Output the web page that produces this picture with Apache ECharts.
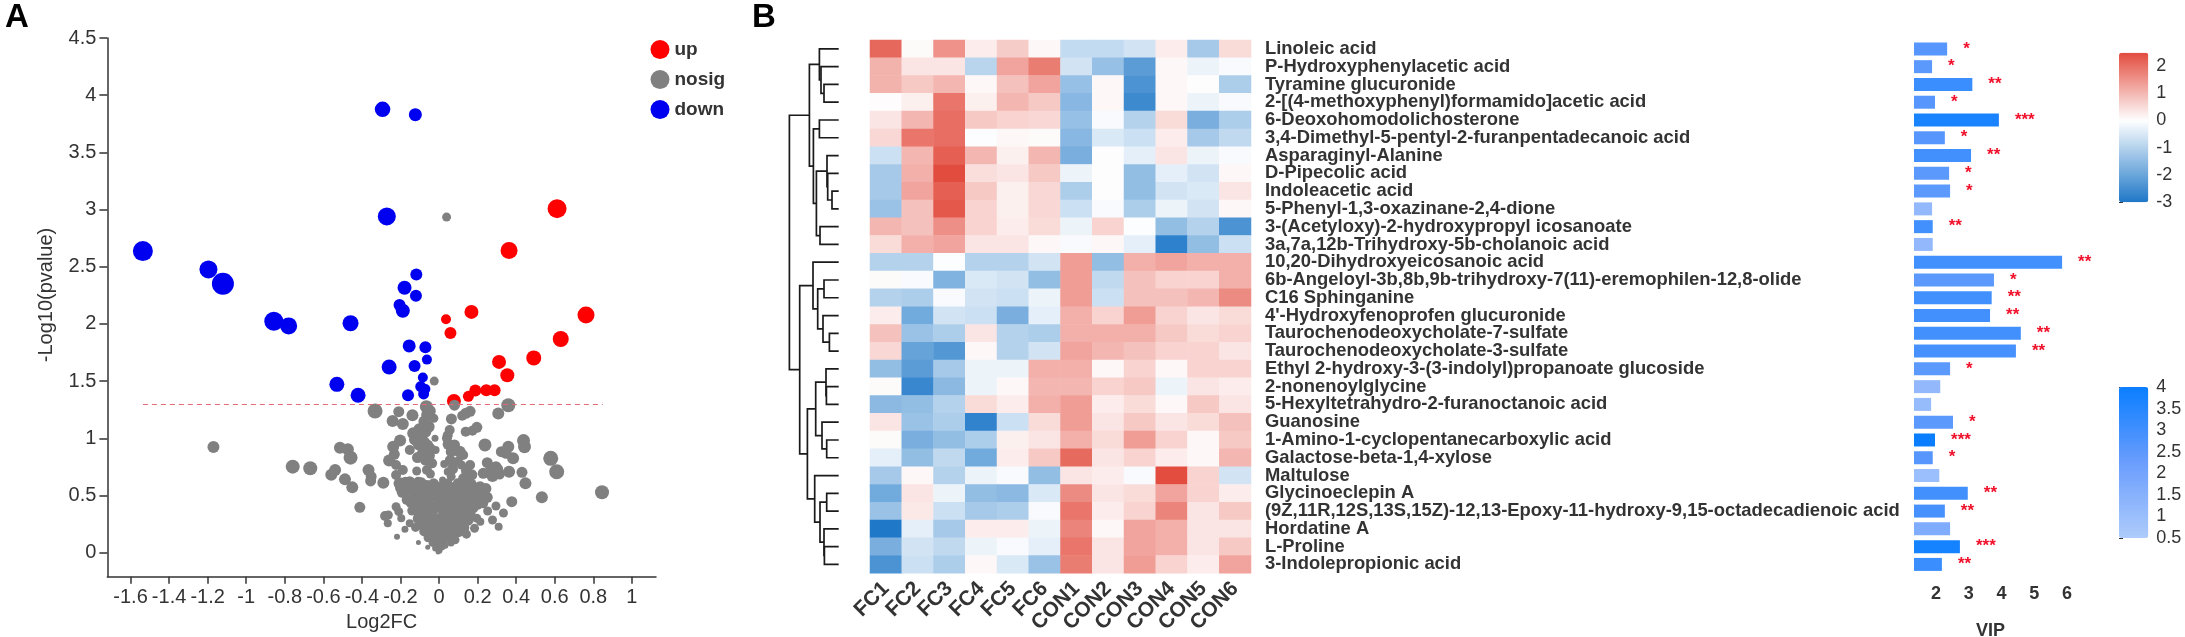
<!DOCTYPE html>
<html>
<head>
<meta charset="utf-8">
<title>Volcano and heatmap</title>
<script src="https://cdn.jsdelivr.net/npm/echarts@6/dist/echarts.min.js"></script>
<style>
  html, body { margin: 0; padding: 0; background: #fff; }
  #main { width: 2185px; height: 637px; }
</style>
</head>
<body>
<div id="main"></div>
<script>
// Panel A: [log2FC, -log10(p), dot weight]
const upDots = [
  [0.612, 3.008, 19], [0.363, 2.643, 17], [0.762, 2.078, 17], [0.168, 2.105, 14], [0.036, 2.041, 10],
  [0.059, 1.921, 12], [0.631, 1.868, 16], [0.491, 1.703, 15], [0.311, 1.668, 14], [0.354, 1.551, 14],
  [0.288, 1.42, 12], [0.245, 1.42, 12], [0.188, 1.417, 12], [0.152, 1.367, 11], [0.077, 1.327, 14]
];
const downDots = [
  [-0.293, 3.876, 15.5], [-0.123, 3.83, 13], [-0.271, 2.94, 18], [-1.536, 2.637, 20], [-1.196, 2.477, 18],
  [-1.121, 2.351, 22], [-0.118, 2.433, 12], [-0.179, 2.316, 14], [-0.12, 2.246, 12], [-0.205, 2.165, 12],
  [-0.188, 2.115, 14], [-0.857, 2.023, 19], [-0.78, 1.983, 17], [-0.459, 2.006, 16], [-0.155, 1.808, 13],
  [-0.071, 1.796, 12], [-0.063, 1.688, 10], [-0.259, 1.624, 15], [-0.127, 1.633, 12], [-0.084, 1.531, 10],
  [-0.53, 1.472, 15], [-0.095, 1.452, 11], [-0.071, 1.431, 10], [-0.42, 1.376, 15], [-0.161, 1.376, 12],
  [-0.08, 1.388, 11]
];
const nosigDots = [
  [0.039, 2.934, 9], [-0.025, 1.5, 9], [-1.17, 0.923, 12], [-0.759, 0.752, 14], [-0.668, 0.738, 14],
  [-0.559, 0.682, 12], [-0.539, 0.723, 12], [-0.514, 0.918, 12], [-0.473, 0.904, 12], [-0.459, 0.831, 14],
  [-0.488, 0.641, 12], [-0.45, 0.571, 12], [-0.411, 0.397, 11], [-0.366, 0.723, 12], [-0.352, 0.665, 11],
  [-0.355, 0.627, 11], [-0.289, 0.612, 12], [-0.332, 1.239, 15], [-0.28, 0.321, 10], [-0.263, 0.329, 9],
  [-0.266, 0.257, 8], [-0.223, 0.402, 9], [-0.209, 0.359, 9], [-0.196, 0.3, 8], [-0.177, 0.204, 7],
  [-0.218, 0.14, 6], [-0.152, 0.257, 8], [-0.107, 0.09, 5], [-0.059, 0.047, 5],
  [0.08, 1.29, 11], [0.359, 1.289, 14], [0.307, 1.216, 12], [0.161, 1.236, 11], [0.139, 1.219, 11],
  [0.12, 1.198, 10], [0.064, 1.169, 11], [0.196, 1.096, 11], [0.173, 1.067, 10], [0.138, 1.058, 10],
  [0.055, 1.073, 10], [0.045, 1.026, 10], [0.041, 1.0, 10], [0.238, 0.942, 13], [0.359, 0.927, 12],
  [0.323, 0.883, 11], [0.384, 0.825, 12], [0.438, 0.98, 13], [0.443, 0.927, 13], [0.348, 0.869, 11],
  [0.25, 0.787, 11], [0.295, 0.752, 11], [0.229, 0.694, 11], [0.277, 0.67, 12], [0.313, 0.688, 11],
  [0.363, 0.708, 12], [0.43, 0.703, 11], [0.448, 0.606, 12], [0.304, 0.73, 11], [0.268, 0.723, 11],
  [0.579, 0.825, 15], [0.61, 0.708, 15], [0.533, 0.484, 12], [0.845, 0.528, 14],
  [0.377, 0.446, 11], [0.334, 0.347, 9], [0.309, 0.227, 8], [0.295, 0.408, 9], [0.252, 0.364, 9],
  [0.277, 0.286, 9], [0.25, 0.484, 11], [0.196, 0.563, 10], [0.155, 0.63, 10], [0.205, 0.49, 10],
  [0.184, 0.213, 9], [0.196, 0.3, 9], [0.214, 0.271, 8],
  [-0.209, 1.233, 11], [-0.138, 1.201, 12], [-0.241, 1.152, 12], [-0.188, 1.125, 12], [-0.066, 1.277, 13],
  [-0.062, 1.204, 12], [-0.027, 1.175, 9], [-0.054, 1.102, 12], [-0.102, 1.079, 12], [-0.134, 1.044, 12],
  [-0.089, 1.029, 11], [-0.021, 1.0, 7], [-0.202, 0.98, 12], [-0.238, 0.927, 12], [-0.152, 0.898, 10],
  [-0.018, 0.898, 8], [-0.232, 0.86, 11], [-0.259, 0.805, 12], [-0.223, 0.767, 10], [-0.188, 0.723, 10],
  [-0.223, 0.679, 10], [-0.205, 0.606, 12], [-0.116, 0.714, 9], [-0.152, 0.621, 11], [-0.107, 0.621, 10],
  [-0.08, 0.898, 11], [-0.071, 0.81, 11], [-0.089, 0.869, 10], [-0.036, 0.781, 10], [0.027, 0.776, 8],
  [-0.063, 0.723, 10], [-0.045, 0.688, 9], [0.018, 0.636, 7], [0.045, 0.708, 8], [0.08, 0.942, 11],
  [0.107, 0.883, 12], [0.125, 0.854, 10], [0.063, 0.883, 11], [0.098, 0.796, 10], [0.161, 0.767, 10],
  [0.116, 0.767, 9], [0.063, 0.665, 9], [0.098, 0.606, 10], [0.125, 0.65, 10],
  [-0.142, 0.598, 12], [-0.118, 0.577, 13], [-0.092, 0.611, 11], [-0.061, 0.584, 12], [-0.028, 0.602, 11],
  [0.013, 0.571, 12], [0.041, 0.596, 12], [0.072, 0.558, 13], [0.104, 0.589, 13], [0.133, 0.567, 13],
  [0.166, 0.593, 12], [-0.127, 0.533, 13], [-0.098, 0.512, 13], [-0.071, 0.547, 13], [-0.019, 0.528, 12],
  [0.022, 0.506, 12], [0.061, 0.539, 13], [0.093, 0.497, 14], [0.121, 0.521, 13], [0.149, 0.482, 13],
  [0.181, 0.516, 13], [-0.132, 0.466, 12], [-0.103, 0.488, 13], [-0.081, 0.452, 14], [-0.042, 0.501, 13],
  [0.003, 0.459, 12], [0.033, 0.471, 13], [0.071, 0.443, 13], [0.102, 0.462, 13], [0.128, 0.431, 13],
  [0.158, 0.447, 12], [-0.121, 0.407, 12], [-0.089, 0.392, 13], [-0.058, 0.428, 13], [-0.026, 0.389, 12],
  [0.012, 0.411, 12], [0.044, 0.381, 13], [0.076, 0.397, 13], [0.111, 0.376, 13], [0.139, 0.388, 12],
  [-0.098, 0.344, 12], [-0.073, 0.332, 12], [-0.041, 0.357, 12], [0.028, 0.341, 13], [0.061, 0.329, 13],
  [0.092, 0.351, 12], [0.122, 0.319, 12], [-0.108, 0.298, 11], [-0.079, 0.276, 12], [-0.052, 0.301, 12],
  [-0.011, 0.288, 13], [0.019, 0.306, 12], [0.049, 0.272, 13], [0.083, 0.291, 12], [0.112, 0.263, 12],
  [0.151, 0.284, 11], [-0.088, 0.238, 10], [-0.061, 0.221, 12], [-0.033, 0.249, 12], [-0.003, 0.227, 12],
  [0.031, 0.244, 12], [0.058, 0.216, 12], [0.091, 0.232, 11], [0.131, 0.219, 10], [-0.077, 0.186, 10],
  [-0.048, 0.173, 11], [-0.019, 0.192, 11], [0.012, 0.169, 12], [0.039, 0.188, 11], [0.071, 0.162, 10],
  [0.102, 0.179, 10], [-0.057, 0.131, 9], [-0.028, 0.119, 10], [-0.002, 0.141, 10], [0.027, 0.113, 9],
  [0.052, 0.137, 9], [0.083, 0.112, 9], [-0.036, 0.083, 7], [-0.012, 0.072, 9], [0.009, 0.091, 8],
  [0.031, 0.064, 7], [0.062, 0.085, 7], [-0.018, 0.041, 7], [0.0, 0.022, 7], [0.017, 0.047, 6],
  [-0.005, 0.006, 5],
  [-0.078, 0.965, 12], [-0.061, 0.938, 12], [-0.044, 0.912, 10], [-0.105, 0.945, 12], [-0.112, 0.832, 11],
  [-0.125, 0.99, 12], [-0.076, 1.147, 12], [-0.048, 1.238, 12], [-0.071, 1.057, 12], [-0.05, 0.85, 11],
  [0.058, 0.807, 11], [0.07, 0.732, 11], [0.047, 0.948, 11], [0.142, 0.716, 11], [0.17, 0.681, 11],
  [-0.161, 0.553, 12], [-0.174, 0.612, 12], [-0.148, 0.437, 10], [-0.139, 0.368, 10], [0.213, 0.571, 12],
  [0.227, 0.436, 11], [0.176, 0.391, 11], [0.163, 0.337, 10], [0.142, 0.162, 9], [-0.122, 0.221, 9],
  [-0.191, 0.528, 11], [-0.168, 0.462, 10], [-0.2, 0.567, 11], [0.222, 0.518, 12], [0.243, 0.561, 11],
  [0.198, 0.423, 11]
];
const xTicks = [-1.6, -1.4, -1.2, -1, -0.8, -0.6, -0.4, -0.2, 0, 0.2, 0.4, 0.6, 0.8, 1];
const yTicks = [0, 0.5, 1, 1.5, 2, 2.5, 3, 3.5, 4, 4.5];

// Panel B
const samples = ['FC1', 'FC2', 'FC3', 'FC4', 'FC5', 'FC6', 'CON1', 'CON2', 'CON3', 'CON4', 'CON5', 'CON6'];
const metabolites = [
  'Linoleic acid',
  'P-Hydroxyphenylacetic acid',
  'Tyramine glucuronide',
  '2-[(4-methoxyphenyl)formamido]acetic acid',
  '6-Deoxohomodolichosterone',
  '3,4-Dimethyl-5-pentyl-2-furanpentadecanoic acid',
  'Asparaginyl-Alanine',
  'D-Pipecolic acid',
  'Indoleacetic acid',
  '5-Phenyl-1,3-oxazinane-2,4-dione',
  '3-(Acetyloxy)-2-hydroxypropyl icosanoate',
  '3a,7a,12b-Trihydroxy-5b-cholanoic acid',
  '10,20-Dihydroxyeicosanoic acid',
  '6b-Angeloyl-3b,8b,9b-trihydroxy-7(11)-eremophilen-12,8-olide',
  'C16 Sphinganine',
  "4'-Hydroxyfenoprofen glucuronide",
  'Taurochenodeoxycholate-7-sulfate',
  'Taurochenodeoxycholate-3-sulfate',
  'Ethyl 2-hydroxy-3-(3-indolyl)propanoate glucoside',
  '2-nonenoylglycine',
  '5-Hexyltetrahydro-2-furanoctanoic acid',
  'Guanosine',
  '1-Amino-1-cyclopentanecarboxylic acid',
  'Galactose-beta-1,4-xylose',
  'Maltulose',
  'Glycinoeclepin A',
  '(9Z,11R,12S,13S,15Z)-12,13-Epoxy-11-hydroxy-9,15-octadecadienoic acid',
  'Hordatine A',
  'L-Proline',
  '3-Indolepropionic acid'
];
const heatRows = [
  [2.1, 0.05, 1.5, 0.25, 0.7, 0.1, -0.8, -0.8, -0.6, 0.25, -1.2, 0.5],
  [1.05, 0.35, 0.35, -0.95, 1.25, 1.8, -0.6, -1.4, -2.2, 0.1, -0.25, -0.1],
  [1.05, 0.75, 1.0, 0.1, 0.85, 1.25, -1.4, 0.1, -2.4, 0.1, 0.0, -1.1],
  [0.02, 0.2, 1.9, 0.2, 1.0, 0.75, -1.6, 0.1, -2.6, 0.1, -0.25, -0.1],
  [0.35, 1.0, 2.0, 0.75, 0.6, 0.55, -1.4, -0.1, -1.0, 0.5, -1.8, -1.1],
  [0.55, 1.9, 2.0, -0.05, 0.1, 0.05, -1.6, -0.5, -0.7, 0.25, -1.2, -0.85],
  [-0.7, 1.0, 2.2, 1.0, 0.2, 1.0, -1.8, 0.0, -0.35, 0.35, -0.25, -0.1],
  [-1.2, 1.1, 2.47, 0.45, 0.35, 0.75, -0.25, 0.0, -1.45, -0.35, -0.6, 0.1],
  [-1.2, 1.25, 2.2, 0.75, 0.2, 0.55, -1.1, 0.0, -1.45, -0.6, -0.5, 0.35],
  [-1.35, 0.85, 2.3, 0.6, 0.2, 0.55, -0.7, -0.1, -1.1, -0.25, -0.6, 0.1],
  [1.0, 0.85, 1.55, 0.6, 0.25, 0.5, -0.25, 0.6, -0.05, -1.45, -1.0, -2.4],
  [0.5, 1.1, 1.25, 0.35, 0.35, 0.1, -0.1, 0.1, -0.35, -2.8, -1.45, -0.7],
  [-1.0, -1.0, -0.05, -1.0, -1.0, -0.6, 1.35, -1.45, 1.1, 1.25, 1.1, 1.1],
  [0.05, -0.1, -1.7, -0.5, -0.6, -1.45, 1.35, -0.85, 0.85, 0.6, 0.6, 1.1],
  [-1.0, -1.1, -0.1, -0.6, -0.7, -0.25, 1.35, -0.7, 0.85, 0.85, 1.0, 1.6],
  [0.25, -1.9, -0.6, -0.7, -1.8, -0.35, 1.1, 0.6, 1.35, 0.6, 0.35, 0.5],
  [0.85, -1.35, -1.1, 0.35, -1.0, -1.1, 1.1, 1.1, 1.1, 0.75, 0.5, 0.6],
  [0.55, -2.05, -2.3, 0.1, -1.0, -0.6, 1.25, 1.0, 0.85, 0.6, 0.6, 0.35],
  [-1.45, -2.2, -1.2, -0.25, -0.25, 1.1, 1.1, 0.1, 0.6, 0.1, 0.6, 0.6],
  [0.05, -2.65, -1.55, -0.25, 0.1, 1.0, 1.0, 0.6, 0.75, -0.25, 0.35, 0.25],
  [-1.55, -1.45, -1.0, 0.5, 0.25, 1.1, 1.35, 0.25, 0.5, 0.1, 0.75, 0.35],
  [0.35, -1.35, -1.1, -2.75, -0.7, 0.5, 1.35, 0.35, 0.75, 0.35, 0.5, 0.85],
  [0.05, -1.8, -1.45, -1.1, 0.2, 0.35, 1.1, 0.5, 1.35, 0.6, 0.1, 0.75],
  [-0.35, -1.45, -0.85, -1.9, 0.25, 0.75, 2.05, 0.35, 0.6, 0.25, 0.1, 1.0],
  [-1.2, 0.1, -1.0, -0.25, -0.1, -1.45, 0.35, 0.25, -0.1, 2.45, 0.6, -0.6],
  [-1.9, 0.35, -0.25, -1.45, -1.55, -0.5, 1.6, 0.35, 0.5, 1.25, 0.6, 0.25],
  [-1.35, 0.3, -0.7, -1.2, -1.1, -0.1, 1.9, 0.25, 0.6, 1.7, 0.35, 0.75],
  [-3.0, -0.35, -1.2, 0.25, 0.25, -0.25, 1.7, 0.1, 1.25, 1.1, 0.35, 0.35],
  [-1.8, -0.6, -0.85, -0.25, -0.1, -0.35, 1.9, 0.35, 1.25, 1.1, 0.35, 0.75],
  [-2.4, -0.7, -1.1, 0.1, -0.5, -1.35, 1.8, 0.35, 1.35, 0.6, 0.25, 1.25]
];
const vip = [
  2.34, 1.88, 3.11, 1.97, 3.92, 2.27, 3.07, 2.4, 2.43, 1.88, 1.9, 1.9, 5.85, 3.77, 3.7,
  3.65, 4.59, 4.44, 2.43, 2.13, 1.85, 2.52, 1.97, 1.9, 2.1, 2.97, 2.27, 2.43, 2.73, 2.18
];
const logP = [
  2.6, 2.5, 3.1, 2.6, 3.7, 2.6, 3.0, 2.5, 2.5, 1.2, 3.0, 1.2, 3.0, 2.5, 3.0,
  3.0, 3.0, 2.9, 2.5, 1.2, 1.1, 2.5, 4.0, 2.6, 1.0, 3.0, 2.9, 1.7, 3.8, 3.1
];
const stars = [
  '*', '*', '**', '*', '***', '*', '**', '*', '*', '', '**', '', '**', '*', '**',
  '**', '**', '**', '*', '', '', '*', '***', '*', '', '**', '**', '', '***', '**'
];
const vipTicks = [2, 3, 4, 5, 6];
const heatTicks = [-3, -2, -1, 0, 1, 2];
const pTicks = [0.5, 1, 1.5, 2, 2.5, 3, 3.5, 4];
// dendrogram merges: [height, left child, right child]; child >= 0 is a row, 'mN' is merge N
const merges = [
  [14.7, 2, 3], [17.7, 1, 'm0'], [19.3, 0, 'm1'], [19.3, 4, 5], [6.7, 8, 9], [11, 7, 'm4'], [11.7, 6, 'm5'],
  [18.7, 10, 11], [22.3, 'm6', 'm7'], [25.3, 'm3', 'm8'], [29.3, 'm2', 'm9'],
  [14.7, 13, 14], [9.3, 16, 17], [15.7, 15, 'm12'], [21, 'm11', 'm13'], [25.7, 12, 'm14'],
  [12.3, 19, 20], [12.7, 18, 'm16'], [12, 22, 23], [16.7, 21, 'm18'], [23, 'm17', 'm19'],
  [12, 25, 26], [14.3, 28, 29], [14.7, 27, 'm22'], [18.7, 'm21', 'm23'], [24, 24, 'm24'],
  [31.3, 'm20', 'm25'], [39, 'm15', 'm26'], [49.3, 'm10', 'm27']
];

const font = '"Liberation Sans", Arial, sans-serif';
const ink = '#333333';

// build the U shapes of the tree from the merge table
const nodes = [];
const branches = [];
merges.forEach(m => {
  const end = c => (typeof c === 'number' ? { h: 0, y: c + 0.5 } : nodes[+c.slice(1)]);
  const a = end(m[1]);
  const b = end(m[2]);
  branches.push([a.h, a.y, m[0], b.y, b.h]);
  nodes.push({ h: m[0], y: (a.y + b.y) / 2 });
});

const heatData = [];
heatRows.forEach((row, r) => row.forEach((v, c) => heatData.push([c, r, v])));

function mix(a, b, t) {
  return 'rgb(' + a.map((v, i) => Math.round(v + (b[i] - v) * t)).join(',') + ')';
}
const heatStops = [];
for (let i = 0; i <= 22; i++) {
  const v = -3 + (5.47 * i) / 22;
  heatStops.push(v < 0 ? mix([255, 255, 255], [31, 120, 200], -v / 3) : mix([255, 255, 255], [226, 76, 62], v / 2.47));
}

const dotSeries = (name, color, data, extra) => Object.assign({
  name: name,
  type: 'scatter',
  xAxisIndex: 0,
  yAxisIndex: 0,
  data: data,
  symbolSize: d => d[2],
  itemStyle: { color: color, opacity: 1 }
}, extra);

const colorbarAxis = (gridIndex, min, max, ticks) => ({
  type: 'value', gridIndex: gridIndex, position: 'right', min: min, max: max,
  axisLine: { show: false },
  splitLine: { show: false },
  axisTick: { show: true, length: 4, customValues: ticks, lineStyle: { color: ink, width: 1 } },
  axisLabel: { customValues: ticks, color: ink, fontSize: 18, fontFamily: font, margin: 8 }
});

const chart = echarts.init(document.getElementById('main'));
chart.setOption({
  animation: false,
  backgroundColor: '#fff',
  title: [
    { text: 'A', left: 5, top: 1, padding: 0, textStyle: { fontSize: 33, fontWeight: 'bold', color: '#000', fontFamily: font } },
    { text: 'B', left: 752, top: 1, padding: 0, textStyle: { fontSize: 33, fontWeight: 'bold', color: '#000', fontFamily: font } }
  ],
  legend: {
    data: ['up', 'nosig', 'down'],
    orient: 'vertical', left: 650.5, top: 40, padding: 0,
    icon: 'circle', itemWidth: 19, itemHeight: 19, itemGap: 11,
    textStyle: { fontSize: 19, fontWeight: 'bold', color: ink, fontFamily: font }
  },
  graphic: [{
    type: 'text', x: 46.5, y: 295, rotation: Math.PI / 2,
    style: { text: '-Log10(pvalue)', fill: ink, font: '20px ' + font, textAlign: 'center', textVerticalAlign: 'middle' }
  }],
  grid: [
    { left: 107.4, top: 38, width: 548.6, height: 538.7, outerBoundsMode: 'none' }, // volcano
    { left: 785, top: 40, width: 53.7, height: 533.3, outerBoundsMode: 'none' }, // tree
    { left: 870, top: 40, width: 381, height: 533.3, outerBoundsMode: 'none' }, // heatmap
    { left: 1914, top: 40, width: 153, height: 533.3, outerBoundsMode: 'none' }, // VIP bars
    { left: 2119, top: 52.7, width: 29.3, height: 149.6, outerBoundsMode: 'none' }, // colour bar 1
    { left: 2119, top: 387, width: 29.3, height: 151, outerBoundsMode: 'none' } // colour bar 2
  ],
  xAxis: [
    {
      type: 'value', gridIndex: 0, min: -1.72, max: 1.125,
      name: 'Log2FC', nameLocation: 'middle', nameGap: 35,
      nameTextStyle: { fontSize: 20, color: ink, fontFamily: font },
      splitLine: { show: false },
      axisLine: { onZero: false, lineStyle: { color: ink, width: 1.5 } },
      axisTick: { length: 7, customValues: xTicks, lineStyle: { color: ink, width: 1.5 } },
      axisLabel: { customValues: xTicks, fontSize: 20, color: ink, fontFamily: font, margin: 11 }
    },
    { type: 'value', gridIndex: 1, min: 0, max: 53.7, inverse: true, show: false },
    {
      type: 'category', gridIndex: 2, data: samples, position: 'bottom',
      axisLine: { show: false }, axisTick: { show: false },
      axisLabel: { interval: 0, rotate: 45, fontSize: 21, fontWeight: 'bold', color: ink, fontFamily: font, margin: 12 }
    },
    {
      type: 'value', gridIndex: 3, min: 1.328, max: 6, offset: 3,
      name: 'VIP', nameLocation: 'middle', nameGap: 46,
      nameTextStyle: { fontSize: 18, fontWeight: 'bold', color: ink, fontFamily: font },
      splitLine: { show: false },
      axisLine: { onZero: false, lineStyle: { color: ink, width: 1 } },
      axisTick: { length: 4, customValues: vipTicks, lineStyle: { color: ink } },
      axisLabel: { customValues: vipTicks, fontSize: 18, fontWeight: 'bold', color: ink, fontFamily: font, margin: 9 }
    },
    { type: 'value', gridIndex: 4, min: 0, max: 1, show: false },
    { type: 'value', gridIndex: 5, min: 0, max: 1, show: false }
  ],
  yAxis: [
    {
      type: 'value', gridIndex: 0, min: -0.21, max: 4.5,
      splitLine: { show: false },
      axisLine: { onZero: false, lineStyle: { color: ink, width: 1.5 } },
      axisTick: { length: 8, customValues: yTicks, lineStyle: { color: ink, width: 1.5 } },
      axisLabel: { customValues: yTicks, fontSize: 20, color: ink, fontFamily: font, margin: 11 }
    },
    { type: 'value', gridIndex: 1, min: 0, max: 30, inverse: true, show: false },
    {
      type: 'category', gridIndex: 2, data: metabolites, inverse: true, position: 'right',
      axisLine: { show: false }, axisTick: { show: false },
      axisLabel: { interval: 0, fontSize: 18.4, fontWeight: 'bold', color: ink, fontFamily: font, margin: 14 }
    },
    { type: 'category', gridIndex: 3, data: metabolites, inverse: true, show: false },
    colorbarAxis(4, -3, 2.48, heatTicks),
    colorbarAxis(5, 0.5, 4, pTicks)
  ],
  visualMap: [
    {
      type: 'continuous', seriesIndex: 4, dimension: 2, min: -3, max: 2.47,
      left: 2119, top: 52.7, padding: 0, itemWidth: 29.3, itemHeight: 149.6,
      calculable: false, hoverLink: false, inRange: { color: heatStops }
    },
    {
      type: 'continuous', seriesIndex: 5, dimension: 2, min: 0.5, max: 4,
      left: 2119, top: 387, padding: 0, itemWidth: 29.3, itemHeight: 151,
      calculable: false, hoverLink: false, inRange: { color: ['#aeccfb', '#6a9dfd', '#0a7eff'] }
    }
  ],
  series: [
    dotSeries('up', '#ff0000', upDots),
    dotSeries('nosig', '#808080', nosigDots, {
      markLine: {
        silent: true, symbol: 'none', label: { show: false },
        lineStyle: { type: [5, 4], color: '#e36a75', width: 1 },
        data: [[{ coord: [-1.536, 1.3] }, { coord: [0.849, 1.3] }]]
      }
    }),
    dotSeries('down', '#0000f0', downDots),
    {
      type: 'custom', xAxisIndex: 1, yAxisIndex: 1, data: branches, silent: true, clip: false,
      renderItem: (params, api) => {
        const p = [
          api.coord([api.value(0), api.value(1)]),
          api.coord([api.value(2), api.value(1)]),
          api.coord([api.value(2), api.value(3)]),
          api.coord([api.value(4), api.value(3)])
        ];
        return { type: 'polyline', shape: { points: p }, style: { stroke: '#1a1a1a', lineWidth: 1.7, fill: null } };
      }
    },
    {
      type: 'heatmap', xAxisIndex: 2, yAxisIndex: 2, data: heatData, silent: true,
      itemStyle: { borderWidth: 0 }
    },
    {
      type: 'bar', xAxisIndex: 3, yAxisIndex: 3, barWidth: 13,
      encode: { x: 0, y: 1 },
      data: vip.map((v, i) => [v, i, logP[i]]),
      label: {
        show: true, position: 'right', distance: 16,
        formatter: p => stars[p.dataIndex],
        color: '#f0102a', fontSize: 17, fontWeight: 'bold', fontFamily: font
      }
    }
  ]
});
</script>
</body>
</html>
